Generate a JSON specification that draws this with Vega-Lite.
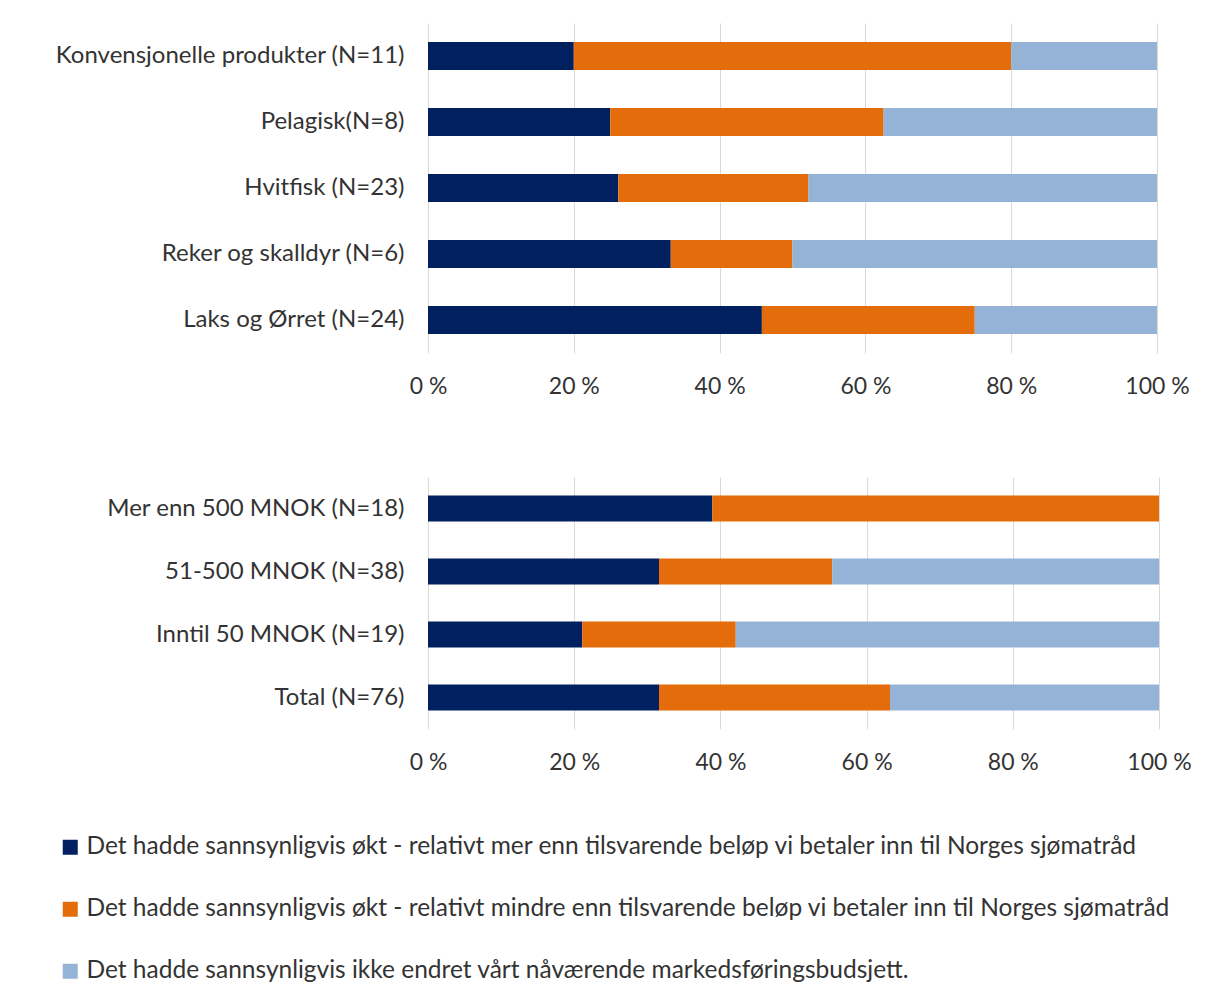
{
  "$schema": "https://vega.github.io/schema/vega-lite/v6.json",
  "background": "white",
  "padding": {"left": 54, "top": 23, "right": 10, "bottom": 5},
  "spacing": 79,
  "config": {
    "font": "Lato",
    "view": {"stroke": null},
    "axis": {"labelFont": "Lato", "labelFontSize": 24, "labelColor": "#333333", "domain": false, "ticks": false, "title": null, "gridColor": "#D9D9D9", "gridWidth": 1},
    "axisX": {"labelFontSize": 23, "labelFlush": false},
    "legend": {"labelFont": "Lato", "labelFontSize": 24.5, "labelColor": "#333333"}
  },
  "datasets": {
    "top": [
      {"kategori": "Konvensjonelle produkter (N=11)", "svar": "Det hadde sannsynligvis økt - relativt mer enn tilsvarende beløp vi betaler inn til Norges sjømatråd", "andel": 20.0, "rekkefolge": 1},
      {"kategori": "Konvensjonelle produkter (N=11)", "svar": "Det hadde sannsynligvis økt - relativt mindre enn tilsvarende beløp vi betaler inn til Norges sjømatråd", "andel": 60.0, "rekkefolge": 2},
      {"kategori": "Konvensjonelle produkter (N=11)", "svar": "Det hadde sannsynligvis ikke endret vårt nåværende markedsføringsbudsjett.", "andel": 20.0, "rekkefolge": 3},
      {"kategori": "Pelagisk(N=8)", "svar": "Det hadde sannsynligvis økt - relativt mer enn tilsvarende beløp vi betaler inn til Norges sjømatråd", "andel": 25.0, "rekkefolge": 1},
      {"kategori": "Pelagisk(N=8)", "svar": "Det hadde sannsynligvis økt - relativt mindre enn tilsvarende beløp vi betaler inn til Norges sjømatråd", "andel": 37.5, "rekkefolge": 2},
      {"kategori": "Pelagisk(N=8)", "svar": "Det hadde sannsynligvis ikke endret vårt nåværende markedsføringsbudsjett.", "andel": 37.5, "rekkefolge": 3},
      {"kategori": "Hvitfisk (N=23)", "svar": "Det hadde sannsynligvis økt - relativt mer enn tilsvarende beløp vi betaler inn til Norges sjømatråd", "andel": 26.1, "rekkefolge": 1},
      {"kategori": "Hvitfisk (N=23)", "svar": "Det hadde sannsynligvis økt - relativt mindre enn tilsvarende beløp vi betaler inn til Norges sjømatråd", "andel": 26.1, "rekkefolge": 2},
      {"kategori": "Hvitfisk (N=23)", "svar": "Det hadde sannsynligvis ikke endret vårt nåværende markedsføringsbudsjett.", "andel": 47.8, "rekkefolge": 3},
      {"kategori": "Reker og skalldyr (N=6)", "svar": "Det hadde sannsynligvis økt - relativt mer enn tilsvarende beløp vi betaler inn til Norges sjømatråd", "andel": 33.3, "rekkefolge": 1},
      {"kategori": "Reker og skalldyr (N=6)", "svar": "Det hadde sannsynligvis økt - relativt mindre enn tilsvarende beløp vi betaler inn til Norges sjømatråd", "andel": 16.7, "rekkefolge": 2},
      {"kategori": "Reker og skalldyr (N=6)", "svar": "Det hadde sannsynligvis ikke endret vårt nåværende markedsføringsbudsjett.", "andel": 50.0, "rekkefolge": 3},
      {"kategori": "Laks og Ørret (N=24)", "svar": "Det hadde sannsynligvis økt - relativt mer enn tilsvarende beløp vi betaler inn til Norges sjømatråd", "andel": 45.8, "rekkefolge": 1},
      {"kategori": "Laks og Ørret (N=24)", "svar": "Det hadde sannsynligvis økt - relativt mindre enn tilsvarende beløp vi betaler inn til Norges sjømatråd", "andel": 29.2, "rekkefolge": 2},
      {"kategori": "Laks og Ørret (N=24)", "svar": "Det hadde sannsynligvis ikke endret vårt nåværende markedsføringsbudsjett.", "andel": 25.0, "rekkefolge": 3}
    ],
    "bottom": [
      {"kategori": "Mer enn 500 MNOK (N=18)", "svar": "Det hadde sannsynligvis økt - relativt mer enn tilsvarende beløp vi betaler inn til Norges sjømatråd", "andel": 38.9, "rekkefolge": 1},
      {"kategori": "Mer enn 500 MNOK (N=18)", "svar": "Det hadde sannsynligvis økt - relativt mindre enn tilsvarende beløp vi betaler inn til Norges sjømatråd", "andel": 61.1, "rekkefolge": 2},
      {"kategori": "Mer enn 500 MNOK (N=18)", "svar": "Det hadde sannsynligvis ikke endret vårt nåværende markedsføringsbudsjett.", "andel": 0.0, "rekkefolge": 3},
      {"kategori": "51-500 MNOK (N=38)", "svar": "Det hadde sannsynligvis økt - relativt mer enn tilsvarende beløp vi betaler inn til Norges sjømatråd", "andel": 31.6, "rekkefolge": 1},
      {"kategori": "51-500 MNOK (N=38)", "svar": "Det hadde sannsynligvis økt - relativt mindre enn tilsvarende beløp vi betaler inn til Norges sjømatråd", "andel": 23.7, "rekkefolge": 2},
      {"kategori": "51-500 MNOK (N=38)", "svar": "Det hadde sannsynligvis ikke endret vårt nåværende markedsføringsbudsjett.", "andel": 44.7, "rekkefolge": 3},
      {"kategori": "Inntil 50 MNOK (N=19)", "svar": "Det hadde sannsynligvis økt - relativt mer enn tilsvarende beløp vi betaler inn til Norges sjømatråd", "andel": 21.1, "rekkefolge": 1},
      {"kategori": "Inntil 50 MNOK (N=19)", "svar": "Det hadde sannsynligvis økt - relativt mindre enn tilsvarende beløp vi betaler inn til Norges sjømatråd", "andel": 21.0, "rekkefolge": 2},
      {"kategori": "Inntil 50 MNOK (N=19)", "svar": "Det hadde sannsynligvis ikke endret vårt nåværende markedsføringsbudsjett.", "andel": 57.9, "rekkefolge": 3},
      {"kategori": "Total (N=76)", "svar": "Det hadde sannsynligvis økt - relativt mer enn tilsvarende beløp vi betaler inn til Norges sjømatråd", "andel": 31.6, "rekkefolge": 1},
      {"kategori": "Total (N=76)", "svar": "Det hadde sannsynligvis økt - relativt mindre enn tilsvarende beløp vi betaler inn til Norges sjømatråd", "andel": 31.6, "rekkefolge": 2},
      {"kategori": "Total (N=76)", "svar": "Det hadde sannsynligvis ikke endret vårt nåværende markedsføringsbudsjett.", "andel": 36.8, "rekkefolge": 3}
    ]
  },
  "resolve": {"scale": {"color": "independent"}},
  "vconcat": [
    {
      "data": {"name": "top"},
      "width": 729,
      "height": 330,
      "mark": {"type": "bar", "size": 28},
      "encoding": {
        "y": {"field": "kategori", "type": "nominal", "sort": null, "axis": {"labelPadding": 24, "labelLimit": 600}},
        "x": {"field": "andel", "type": "quantitative", "stack": "zero", "scale": {"domain": [0, 100], "nice": false}, "axis": {"values": [0, 20, 40, 60, 80, 100], "labelExpr": "datum.value + ' %'", "labelPadding": 22, "grid": true}},
        "color": {"field": "svar", "type": "nominal", "scale": {"domain": ["Det hadde sannsynligvis økt - relativt mer enn tilsvarende beløp vi betaler inn til Norges sjømatråd", "Det hadde sannsynligvis økt - relativt mindre enn tilsvarende beløp vi betaler inn til Norges sjømatråd", "Det hadde sannsynligvis ikke endret vårt nåværende markedsføringsbudsjett."], "range": ["#002060", "#E46C0A", "#95B3D7"]}, "legend": null},
        "order": {"field": "rekkefolge", "type": "quantitative"}
      }
    },
    {
      "data": {"name": "bottom"},
      "width": 731,
      "height": 252,
      "mark": {"type": "bar", "size": 26},
      "encoding": {
        "y": {"field": "kategori", "type": "nominal", "sort": null, "axis": {"labelPadding": 24, "labelLimit": 600}},
        "x": {"field": "andel", "type": "quantitative", "stack": "zero", "scale": {"domain": [0, 100], "nice": false}, "axis": {"values": [0, 20, 40, 60, 80, 100], "labelExpr": "datum.value + ' %'", "labelPadding": 22, "grid": true}},
        "color": {"field": "svar", "type": "nominal", "scale": {"domain": ["Det hadde sannsynligvis økt - relativt mer enn tilsvarende beløp vi betaler inn til Norges sjømatråd", "Det hadde sannsynligvis økt - relativt mindre enn tilsvarende beløp vi betaler inn til Norges sjømatråd", "Det hadde sannsynligvis ikke endret vårt nåværende markedsføringsbudsjett."], "range": ["#002060", "#E46C0A", "#95B3D7"]},
          "legend": {"title": null, "orient": "none", "legendX": -370, "legendY": 358, "direction": "vertical", "symbolType": "square", "symbolSize": 225, "symbolStrokeWidth": 0, "rowPadding": 37, "labelOffset": 4, "labelLimit": 1200}},
        "order": {"field": "rekkefolge", "type": "quantitative"}
      }
    }
  ]
}
